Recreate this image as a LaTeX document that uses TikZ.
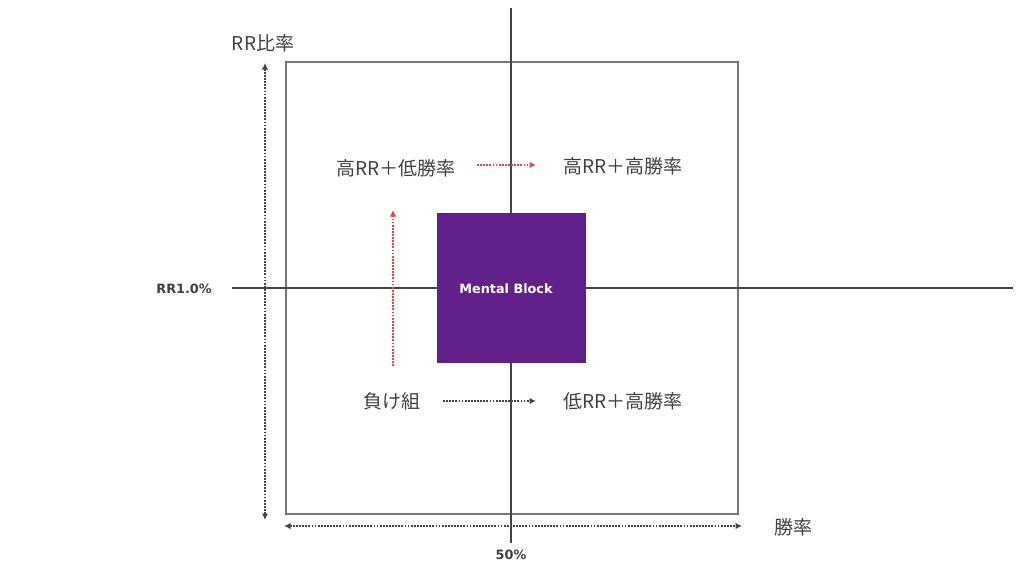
\documentclass[tikz,border=0pt]{standalone}
\usepackage{fontspec}
\setmainfont{Noto Sans CJK JP}
\newfontfamily\boldlat{DejaVu Sans}
\usetikzlibrary{arrows.meta}
\definecolor{boxgray}{HTML}{777777}
\definecolor{axisgray}{HTML}{444444}
\definecolor{mpurple}{HTML}{62218A}
\definecolor{txtgray}{HTML}{404040}
\definecolor{redarr}{HTML}{E8454A}
\tikzset{
  jlabel/.style={font=\fontsize{19}{21}\selectfont, text=txtgray, inner sep=0pt},
  blabel/.style={font=\boldlat\bfseries\fontsize{12.8}{15}\selectfont, text=txtgray, inner sep=0pt},
  dotarrow/.style={line width=2.6pt, dash pattern=on 1.8pt off 1.3pt},
  tip/.style={-{Latex[length=6.5pt,width=6.5pt]}},
  tips/.style={{Latex[length=6.5pt,width=6.5pt]}-{Latex[length=6.5pt,width=6.5pt]}},
}
\begin{document}
\begin{tikzpicture}[x=1pt,y=-1pt]
\useasboundingbox (0,0) rectangle (1024,576);
% frame
\draw[boxgray, line width=1.6pt] (286,62) rectangle (738,514);
% axes
\coordinate (vt) at (511,8);
\coordinate (vb) at (511,543);
\coordinate (hl) at (232,288);
\coordinate (hr) at (1013,288);
\draw[axisgray, line width=1.4pt] (vt) -- (vb);
\draw[axisgray, line width=1.4pt] (hl) -- (hr);
% mental block
\node[fill=mpurple, minimum width=149pt, minimum height=150pt, inner sep=0pt, anchor=north west] (mb) at (437,213) {};
\node[font=\boldlat\bfseries\fontsize{12.8}{15}\selectfont, text=white, inner sep=0pt] (mbt) at (506,289) {Mental Block};
% axis labels
\node[blabel] (rr10) at (184,289) {RR1.0\%};
\node[blabel] (p50) at (511,555) {50\%};
\node[jlabel] (rrh) at (263,43) {RR比率};
\node[jlabel] (wr) at (793,527) {勝率};
% dotted double arrows
\coordinate (lt) at (265,63);
\coordinate (lb) at (265,520);
\draw[axisgray, dotarrow, tips] (lt) -- (lb);
\coordinate (bl) at (284,526);
\coordinate (br) at (742,526);
\draw[axisgray, dotarrow, tips] (bl) -- (br);
% quadrant labels
\node[jlabel] (q2) at (396,168) {高RR＋低勝率};
\node[jlabel] (q1) at (623,166) {高RR＋高勝率};
\node[jlabel] (q3) at (392,401) {負け組};
\node[jlabel] (q4) at (623,401) {低RR＋高勝率};
% arrows
\coordinate (ra1) at (477,165);
\coordinate (ra2) at (536,165);
\draw[redarr, dotarrow, tip] (ra1) -- (ra2);
\coordinate (rv1) at (393,366);
\coordinate (rv2) at (393,210);
\draw[redarr, dotarrow, tip] (rv1) -- (rv2);
\coordinate (ba1) at (443,401);
\coordinate (ba2) at (536,401);
\draw[axisgray, dotarrow, tip] (ba1) -- (ba2);
\end{tikzpicture}
\end{document}
